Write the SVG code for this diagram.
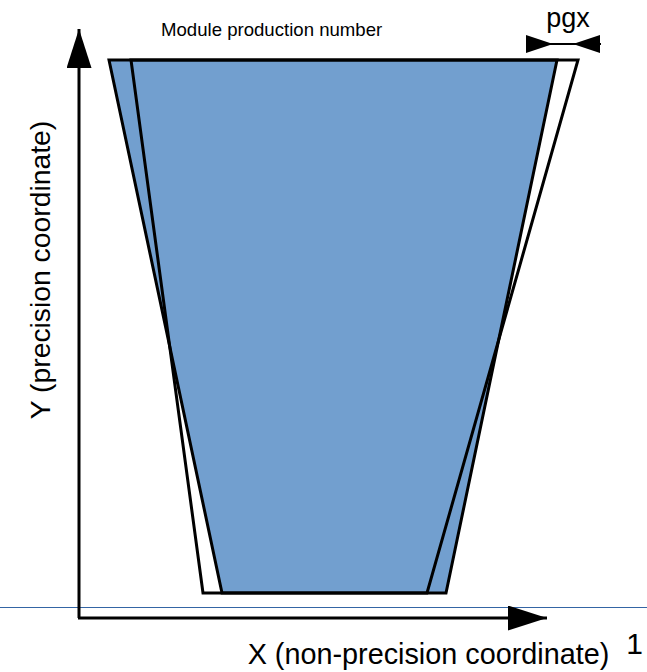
<svg xmlns="http://www.w3.org/2000/svg" width="647" height="672" viewBox="0 0 647 672">
<style>
  .edge { stroke: #000; stroke-width: 3; stroke-linejoin: miter; }
  .lbl { font-family: "Liberation Sans", Arial, sans-serif; fill: #000; }
  .axis { fill: none; stroke: #000; stroke-width: 3; }
  .dim { fill: none; stroke: #000; stroke-width: 2; }
</style>
<defs>
  <marker id="axisHead" viewBox="0 0 39 25" refX="39" refY="12.5" markerWidth="39" markerHeight="25" markerUnits="userSpaceOnUse" orient="auto">
    <path d="M0,0 L39,12.5 L0,25 Z" fill="#000"/>
  </marker>
  <marker id="dimHead" viewBox="0 0 27 18" refX="27" refY="9" markerWidth="27" markerHeight="18" markerUnits="userSpaceOnUse" orient="auto">
    <path d="M0,0 L27,9 L0,18 Z" fill="#000"/>
  </marker>
</defs>
<rect width="647" height="672" fill="#fff"/>
<g id="shape-blue">
  <polygon class="edge" points="109,60 557,60 446,593 222,593" fill="#729fcf"/>
</g>
<g id="shape-outline">
  <polygon class="edge" points="131,60 578,60 427,593 203,593" fill="none"/>
</g>
<g id="baseline-ref">
  <line x1="0" y1="607.5" x2="647" y2="607.5" stroke="#3465a4" stroke-width="1"/>
</g>
<g id="connectors">
  <path class="axis" d="M79,618 L79,29" marker-end="url(#axisHead)"/>
  <path class="axis" d="M78,618 L547,618" marker-end="url(#axisHead)"/>
  <path class="dim" d="M526,44 L553,44" marker-end="url(#dimHead)"/>
  <path class="dim" d="M553,44 L573,44"/>
  <path class="dim" d="M601,44 L573,44" marker-end="url(#dimHead)"/>
</g>
<g id="labels">
  <text class="lbl" x="161" y="36" font-size="18.6" fill="#111">Module production number</text>
  <text class="lbl" x="568" y="27" font-size="27" text-anchor="middle">pgx</text>
  <text class="lbl" x="0" y="0" font-size="28.3" text-anchor="middle" transform="translate(50,270) rotate(-90)">Y (precision coordinate)</text>
  <text class="lbl" x="428.5" y="664" font-size="28.8" text-anchor="middle">X (non-precision coordinate)</text>
  <text class="lbl" x="634.5" y="654" font-size="30" text-anchor="middle">1</text>
</g>
</svg>
